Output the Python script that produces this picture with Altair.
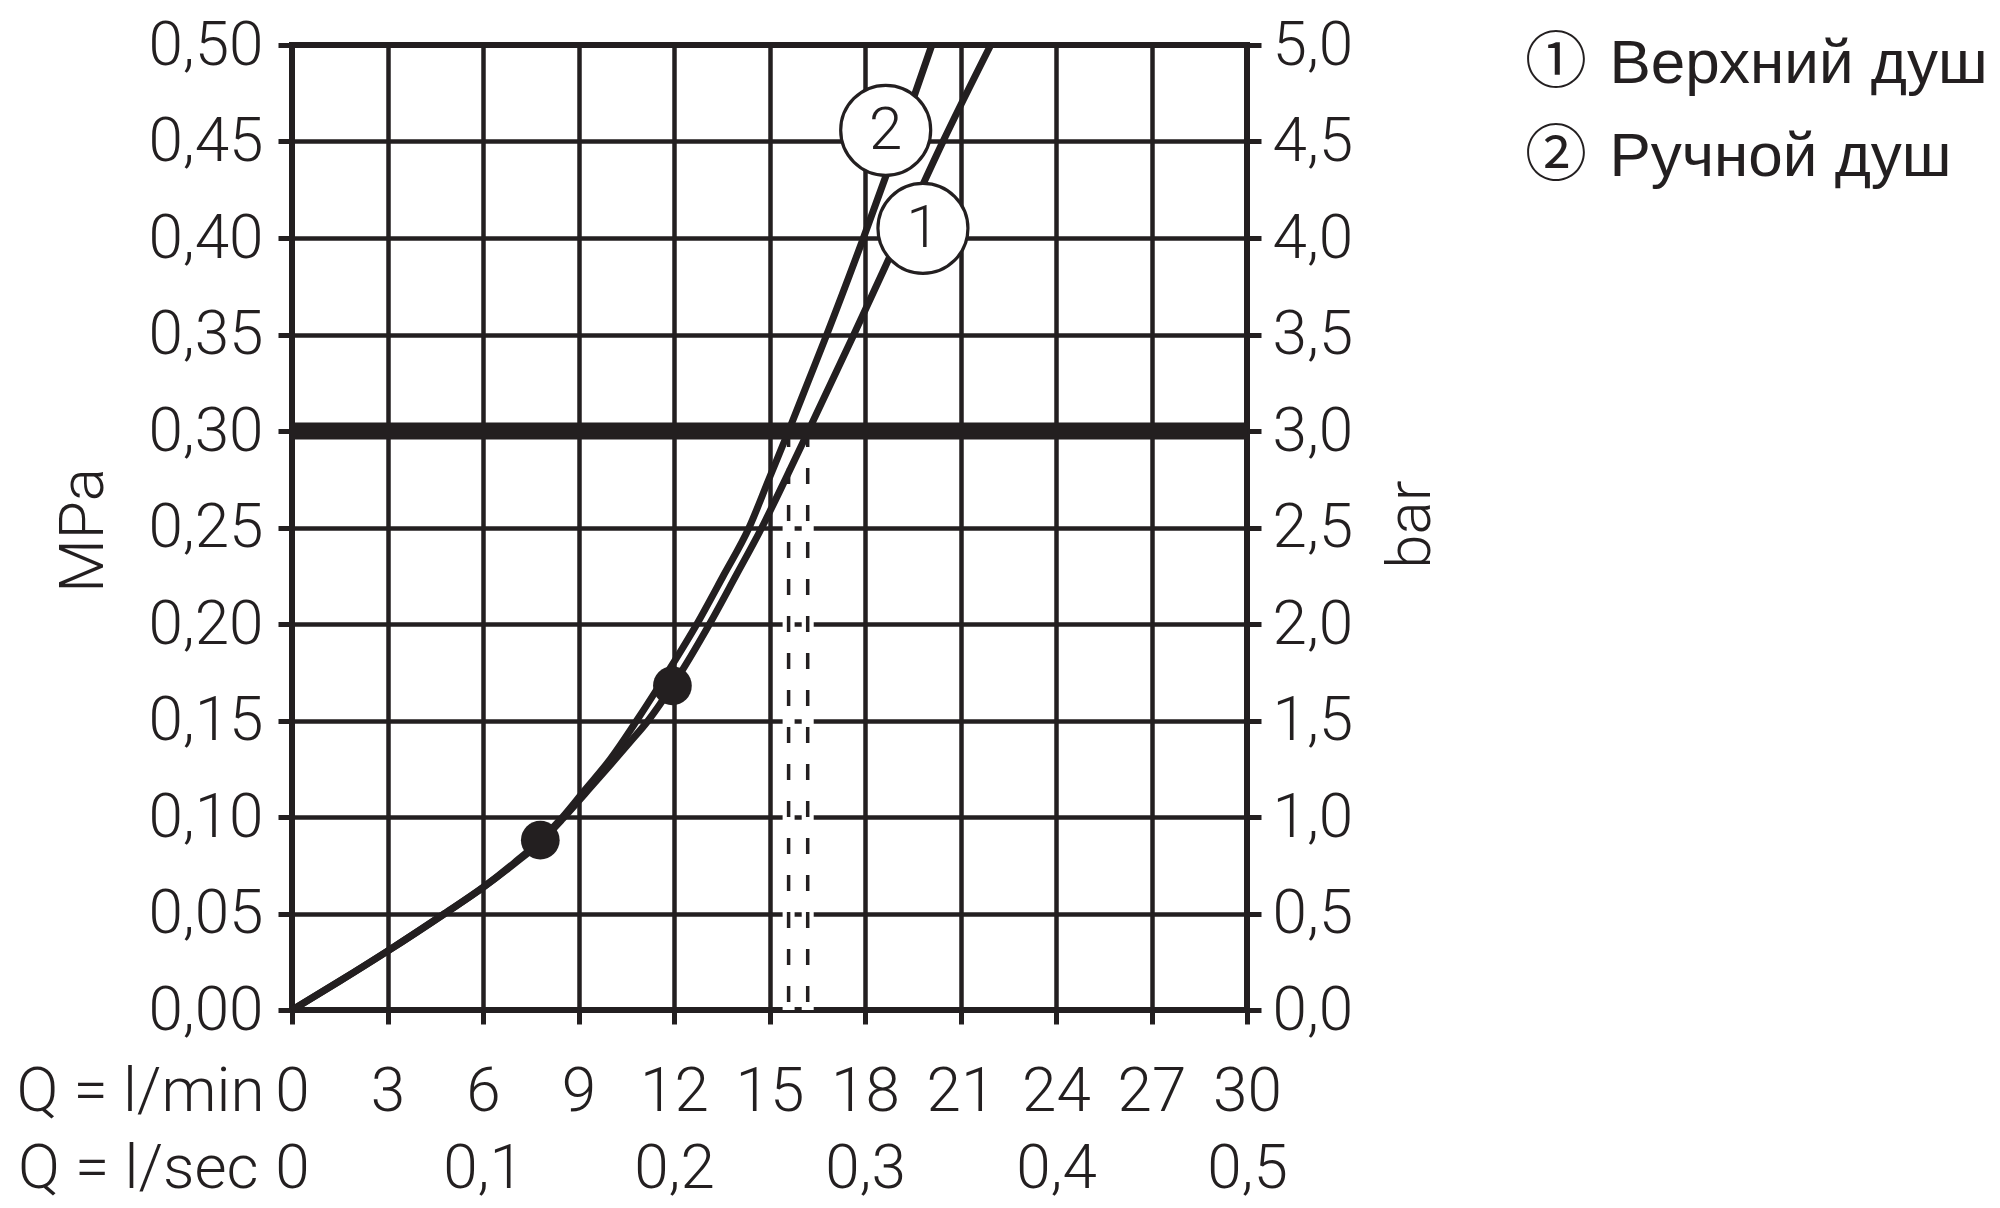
import altair as alt
import pandas as pd

INK = "#231f20"
FONT = "Roboto"
LEG_FONT = "Liberation Sans, Arial, Noto Sans CJK SC"

# axis tick values
q_ticks = [0, 3, 6, 9, 12, 15, 18, 21, 24, 27, 30]          # l/min
p_ticks = [0, 0.05, 0.10, 0.15, 0.20, 0.25, 0.30, 0.35, 0.40, 0.45, 0.50]  # MPa
bar_ticks = [0, 0.5, 1.0, 1.5, 2.0, 2.5, 3.0, 3.5, 4.0, 4.5, 5.0]        # bar
lsec_ticks = [0, 0.1, 0.2, 0.3, 0.4, 0.5]                    # l/sec

series_names = ["① \u200aВерхний душ", "② \u200aРучной душ"]

# curve 1: Верхний душ
q_top = [0, 1.5, 3, 4.8, 6, 7, 7.8, 8.5, 9.2, 10.0, 10.6, 11.19, 11.95, 13.13,
         13.95, 14.76, 15.5, 16.22, 17.65, 19.05, 20.45, 21.95]
p_top = [0, 0.015, 0.0305, 0.05, 0.0635, 0.076, 0.087, 0.099, 0.112, 0.127,
         0.1385, 0.150, 0.168, 0.2004, 0.2252, 0.250, 0.275, 0.300,
         0.350, 0.400, 0.450, 0.500]
# curve 2: Ручной душ
q_hand = [0, 1.5, 3, 4.8, 6, 7, 7.8, 8.5, 9.2, 10.0, 10.83, 11.8, 12.72, 13.55,
          14.36, 14.98, 15.6, 16.2, 16.8, 17.95, 19.05, 20.1]
p_hand = [0, 0.015, 0.0305, 0.05, 0.0635, 0.0765, 0.088, 0.100, 0.114, 0.130,
          0.150, 0.175, 0.200, 0.225, 0.250, 0.275, 0.300, 0.325, 0.350,
          0.400, 0.450, 0.500]

# marked operating points
dot_q = [7.8, 11.95]
dot_p = [0.088, 0.168]

# curve number badges
badge_txt = ["1", "2"]
badge_q = [19.82, 18.65]
badge_p = [0.405, 0.4558]

# flow at 3 bar (dashed guides)
ref_bar = 3.0
ref_mpa = 0.30
dash_q = [15.6, 16.2]

curves = pd.DataFrame(
    {"q": q_top + q_hand,
     "p": p_top + p_hand,
     "series": [series_names[0]] * len(q_top) + [series_names[1]] * len(q_hand)}
)
dots = pd.DataFrame({"q": dot_q, "p": dot_p})
badges = pd.DataFrame({"q": badge_q, "p": badge_p, "t": badge_txt})
dashes = pd.DataFrame({"q": dash_q, "p0": [ref_mpa] * len(dash_q), "p1": [0] * len(dash_q)})
thick = pd.DataFrame({"ls0": [lsec_ticks[0]], "ls1": [lsec_ticks[-1]], "bar": [ref_bar]})

LBL = 62

x_axis = alt.Axis(
    values=q_ticks, format="d", grid=True, gridColor=INK, gridWidth=4.5, gridOpacity=1,
    domain=False, ticks=True, tickSize=14, tickWidth=5, tickColor=INK,
    labelFont=FONT, labelFontSize=LBL, labelFontWeight=300, labelColor=INK,
    labelPadding=67, labelBaseline="middle", labelFlush=False, labelOverlap=False,
    title="Q = l/min", titleFont=FONT, titleFontSize=LBL, titleFontWeight=300,
    titleColor=INK, titleAlign="right", titleAngle=0, titleX=-28, titleY=81,
    titleBaseline="middle",
)
y_axis = alt.Axis(
    values=p_ticks, labelExpr="replace(format(datum.value, '.2f'), '.', ',')",
    grid=True, gridColor=INK, gridWidth=4.5, gridOpacity=1,
    domain=False, ticks=True, tickSize=14, tickWidth=5, tickColor=INK,
    labelFont=FONT, labelFontSize=LBL, labelFontWeight=300, labelColor=INK,
    labelPadding=15, labelBaseline="middle", labelOffset=0,
    labelFlush=False, labelOverlap=False,
    title="MPa", titleFont=FONT, titleFontSize=62, titleFontWeight=300,
    titleColor=INK, titleAngle=270, titleX=-209, titleY=485,
    titleAlign="center", titleBaseline="middle",
)
xs = alt.Scale(domain=[0, 30], nice=False, zero=False)
ys = alt.Scale(domain=[0, 0.5], nice=False, zero=False)

X = alt.X("q:Q", scale=xs, axis=x_axis)
Y = alt.Y("p:Q", scale=ys, axis=y_axis)

halo = alt.Chart(dashes).mark_rule(color="white", strokeWidth=12).encode(
    x=X, y=alt.Y("p0:Q", scale=ys, axis=y_axis), y2="p1:Q")
dashed = alt.Chart(dashes).mark_rule(color=INK, strokeWidth=3.5, strokeDash=[16, 21]).encode(
    x=X, y=alt.Y("p0:Q", scale=ys, axis=y_axis), y2="p1:Q")

lines = alt.Chart(curves).mark_line(strokeWidth=7, interpolate="monotone", strokeCap="butt").encode(
    x=X, y=Y,
    color=alt.Color(
        "series:N",
        scale=alt.Scale(domain=series_names, range=[INK, INK]),
        legend=alt.Legend(
            orient="none", legendX=1171, legendY=-12, title=None, padding=0,
            labelFont=LEG_FONT, labelFontSize=62, labelColor=INK, labelLimit=0,
            labelOffset=0, symbolSize=0, symbolOpacity=0, symbolStrokeWidth=0,
            rowPadding=31, direction="vertical",
        ),
    ),
)
dot_layer = alt.Chart(dots).mark_circle(size=1500, color=INK, opacity=1).encode(x=X, y=Y)
badge_circ = alt.Chart(badges).mark_circle(
    size=8100, fill="white", stroke=INK, strokeWidth=3.2, opacity=1, fillOpacity=1
).encode(x=X, y=Y)
badge_text = alt.Chart(badges).mark_text(
    font=FONT, fontSize=60, fontWeight=300, color=INK, baseline="middle", align="center", dy=1
).encode(x=X, y=Y, text="t:N")

inner = alt.layer(halo, dashed, lines, dot_layer, badge_circ, badge_text)

thick_layer = alt.Chart(thick).mark_rule(color=INK, strokeWidth=17).encode(
    x=alt.X(
        "ls0:Q", scale=alt.Scale(domain=[0, 0.5], nice=False, zero=False),
        axis=alt.Axis(
            orient="bottom", values=lsec_ticks,
            labelExpr="datum.value == 0 ? '0' : replace(format(datum.value, '.1f'), '.', ',')",
            grid=False, domain=False, ticks=False, tickSize=0,
            labelFont=FONT, labelFontSize=LBL, labelFontWeight=300, labelColor=INK,
            labelPadding=158, labelBaseline="middle", labelFlush=False, labelOverlap=False,
            title="Q = l/sec", titleFont=FONT, titleFontSize=LBL, titleFontWeight=300,
            titleColor=INK, titleAlign="right", titleAngle=0, titleX=-34, titleY=158,
            titleBaseline="middle",
        ),
    ),
    x2="ls1:Q",
    y=alt.Y(
        "bar:Q", scale=alt.Scale(domain=[0, 5], nice=False, zero=False),
        axis=alt.Axis(
            orient="right", values=bar_ticks,
            labelExpr="replace(format(datum.value, '.1f'), '.', ',')",
            grid=False, domain=False, ticks=True, tickSize=14, tickWidth=5, tickColor=INK,
            labelFont=FONT, labelFontSize=LBL, labelFontWeight=300, labelColor=INK,
            labelPadding=11, labelBaseline="middle", labelOffset=0,
            labelFlush=False, labelOverlap=False,
            title="bar", titleFont=FONT, titleFontSize=62, titleFontWeight=300,
            titleColor=INK, titleAngle=270, titleX=163, titleY=479,
            titleAlign="center", titleBaseline="middle",
        ),
    ),
)

chart = (
    alt.layer(inner, thick_layer)
    .resolve_scale(x="independent", y="independent")
    .properties(
        width=955, height=965,
        padding={"left": 284, "top": 37, "right": 745, "bottom": 193},
        autosize=alt.AutoSizeParams(type="none"),
        background="white",
    )
    .configure_view(stroke=INK, strokeWidth=6)
)

chart.save("out.html", embed_options={"renderer": "svg", "actions": False})
